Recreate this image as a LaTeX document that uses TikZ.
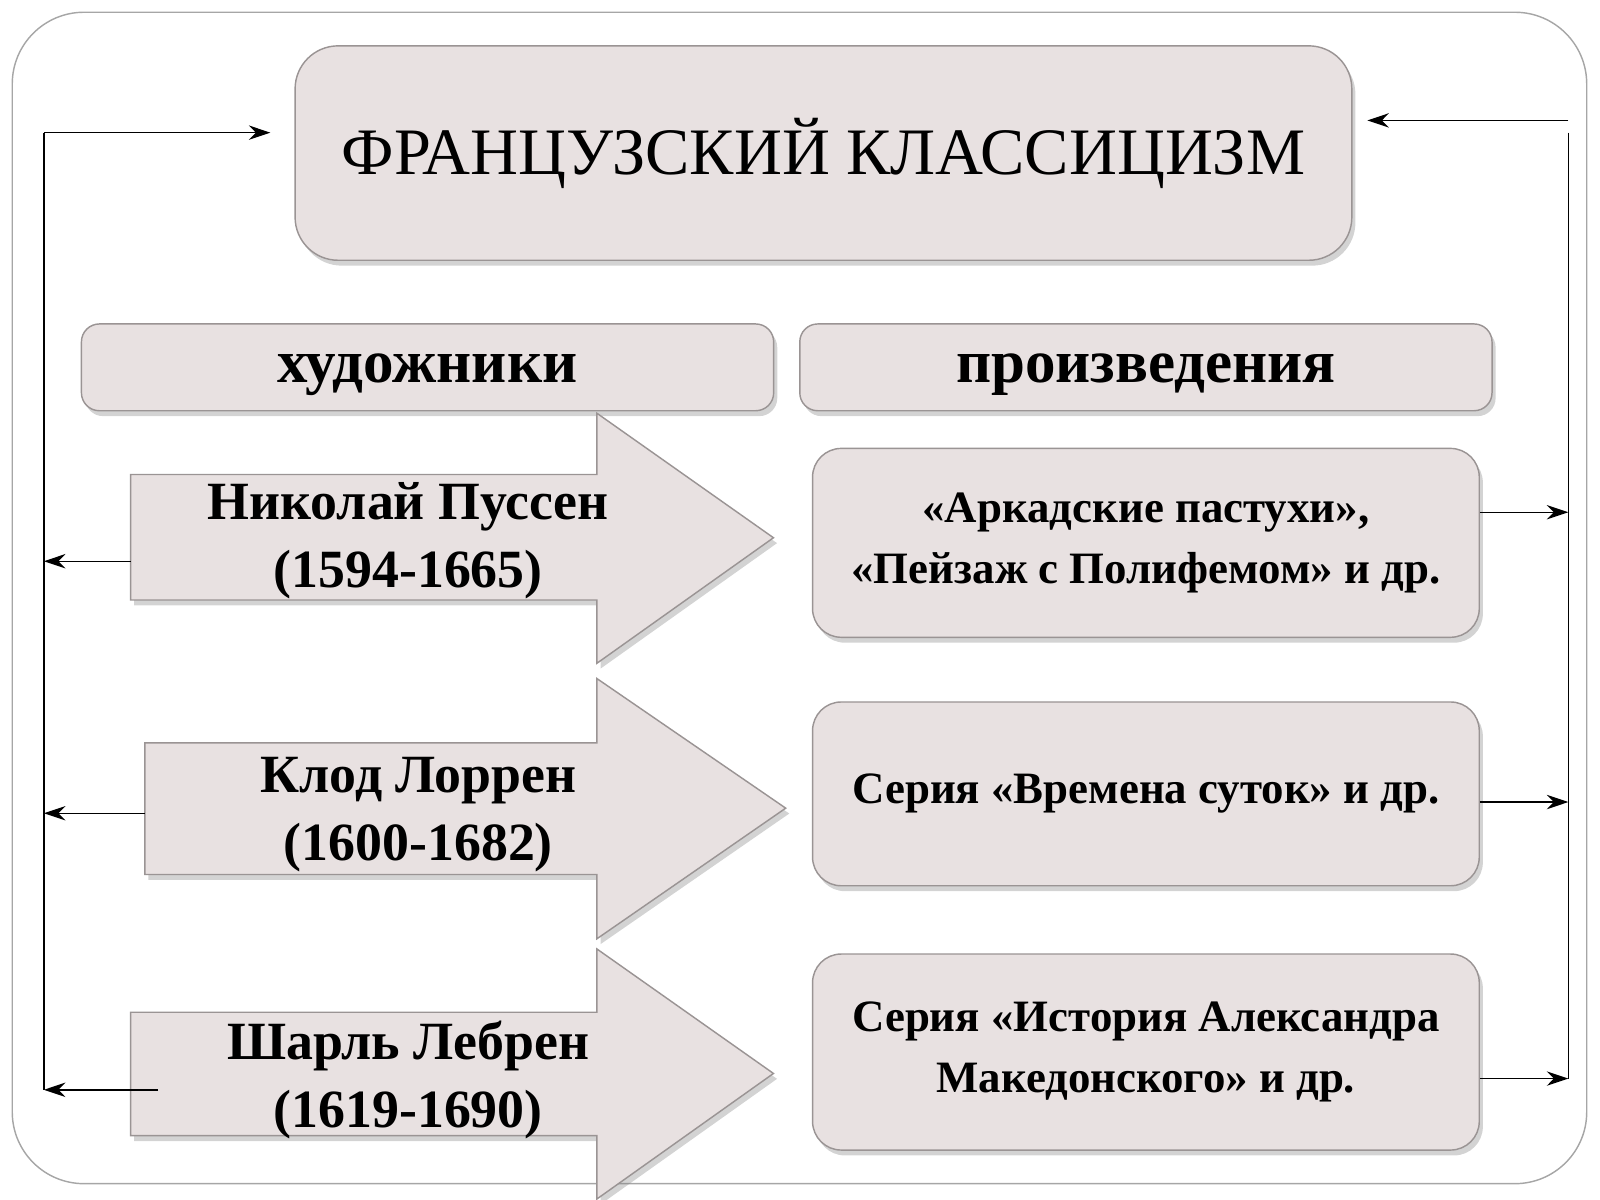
\documentclass[tikz,border=0pt]{standalone}
\usepackage{fontspec}
\setmainfont{Liberation Serif}
\usetikzlibrary{positioning,shadows,arrows.meta}
\definecolor{boxfill}{HTML}{E8E1E1}
\definecolor{boxline}{HTML}{9A9494}
\tikzset{
  card/.style={rectangle, rounded corners=8pt, draw=boxline, fill=boxfill, align=center,
               drop shadow={opacity=0.35, shadow xshift=1pt, shadow yshift=-1.5pt}},
  head/.style={rectangle, rounded corners=5pt, draw=boxline, fill=boxfill,
               minimum width=6.78cm, minimum height=0.85cm, text depth=0.12cm, text height=0.42cm,
               font=\fontsize{17}{20}\selectfont\bfseries,
               drop shadow={opacity=0.35, shadow xshift=1pt, shadow yshift=-1.5pt}},
  shaft/.style={draw=boxline, fill=boxfill,
               drop shadow={opacity=0.35, shadow xshift=1pt, shadow yshift=-1.5pt}},
  link/.style={-{Stealth[length=6pt,width=4pt]}, thin, black},
  lbl/.style={font=\fontsize{15}{19}\selectfont\bfseries, align=center},
  work/.style={card, minimum width=6.53cm, font=\fontsize{12.5}{17}\selectfont\bfseries}
}
\begin{document}
\begin{tikzpicture}[x=0.01cm, y=-0.01cm]
  \useasboundingbox (0,0) rectangle (1568,1176);
  % frame
  \draw[gray!70, rounded corners=20pt] (12,12) rectangle (1555,1160);

  % title
  \node[card, rounded corners=12pt, minimum width=10.35cm, minimum height=2.1cm,
        font=\fontsize{18.5}{24}\selectfont] (title) at (807,150) {ФРАНЦУЗСКИЙ КЛАССИЦИЗМ};

  % headers
  \node[head] (artists) at (419,360) {художники};
  \node[head] (works) at (1123,360) {произведения};

  % arrows with painters
  \path[shaft] (128,465) -- (585,465) -- (585,405) -- (758,527) -- (585,650)
    -- (585,588) -- (128,588) -- cycle;
  \node[lbl] (poussin) at (400,530) {Николай Пуссен\\(1594-1665)};
  \path[shaft] (142,728) -- (585,728) -- (585,665) -- (770,792) -- (585,920)
    -- (585,857) -- (142,857) -- cycle;
  \node[lbl] (lorrain) at (410,798) {Клод Лоррен\\(1600-1682)};
  \path[shaft] (128,992) -- (585,992) -- (585,930) -- (758,1052) -- (585,1175)
    -- (585,1113) -- (128,1113) -- cycle;
  \node[lbl] (lebrun) at (400,1058) {Шарль Лебрен\\(1619-1690)};

  % works
  \node[work, minimum height=1.85cm] (work1) at (1123,532) {«Аркадские пастухи»,\\«Пейзаж с Полифемом» и др.};
  \node[work, minimum height=1.8cm] (work2) at (1123,778) {Серия «Времена суток» и др.};
  \node[work, minimum height=1.92cm] (work3) at (1123,1031) {Серия «История Александра\\Македонского» и др.};

  % connectors
  \coordinate (ltop) at (43,130);
  \coordinate (lbot) at (43,1068);
  \coordinate (rtop) at (1537,118);
  \coordinate (rbot) at (1537,1057);
  \draw (lbot) -- (ltop);
  \draw[link] (ltop) -- (265,130);
  \draw[link] (128,550) -- (43,550);
  \draw[link] (142,797) -- (43,797);
  \draw[link] (155,1068) -- (lbot);
  \draw (1537,130) -- (rbot);
  \draw[link] (rtop) -- (1340,118);
  \draw[link] (work1.east |- 0,502) -- (1537,502);
  \draw[link] (work2.east |- 0,786) -- (1537,786);
  \draw[link] (work3.east |- 0,1057) -- (rbot);
\end{tikzpicture}
\end{document}
